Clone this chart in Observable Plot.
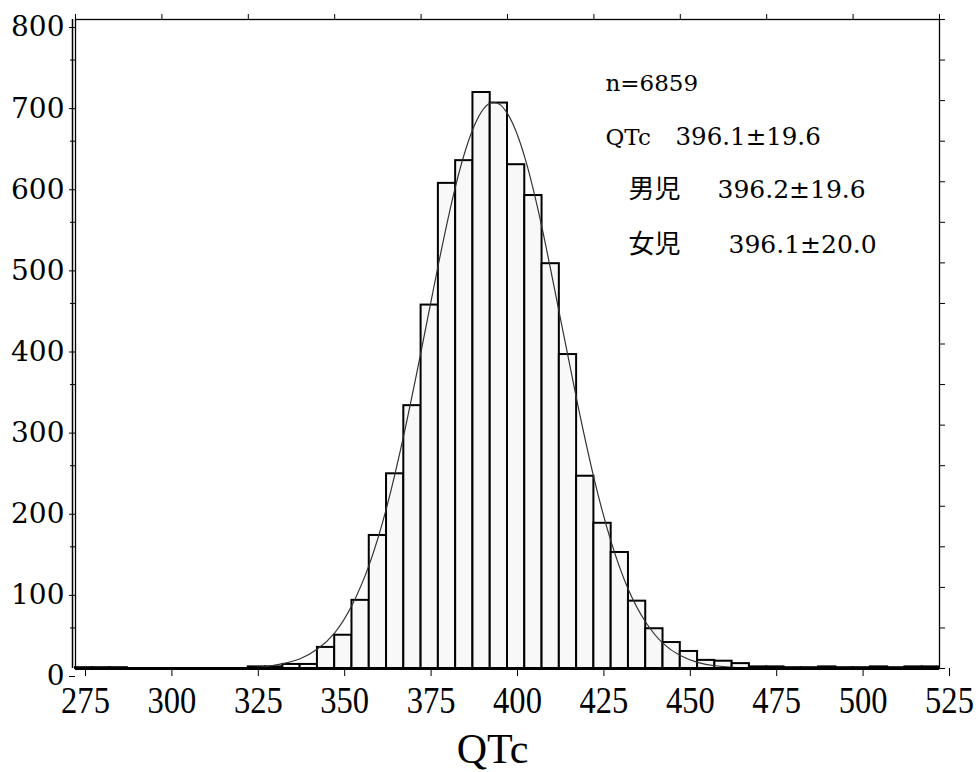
<!DOCTYPE html>
<html>
<head>
<meta charset="utf-8">
<script src="https://cdn.jsdelivr.net/npm/d3@7"></script>
<script src="https://cdn.jsdelivr.net/npm/@observablehq/plot@0.6"></script>
<style>
  html, body { margin: 0; padding: 0; background: white; }
</style>
</head>
<body>
<div id="chart"></div>
<script>
// Histogram bins (left edge, width 5) and counts
const binStarts = [275,280,285,290,295,300,305,310,315,320,325,330,335,340,345,350,355,360,365,370,375,380,385,390,395,400,405,410,415,420,425,430,435,440,445,450,455,460,465,470,475,480,485,490,495,500,505,510,515,520];
const counts    = [1,1,1,0,0,0,0,0,0,0,2,2,5,5,26,41,84,164,240,324,448,598,626,710,697,621,583,499,387,237,179,143,83,49,32,21,10,9,6,2,2,1,1,2,1,1,2,1,2,2];
const binWidth = 5;

// Fitted curve, points
const curveX = [320,325,330,335,340,345,350,355,360,365,370,375,380,385,390,395,400,405,410,415,420,425,430,435,440,445,450,455,460,465,470,475];
const curveY = [0.5,1,2.5,6,12,24,44,78,128,198,288,391,498,595,665,697,684,630,543,438,332,235,156,97,57,31,16,7.6,3.4,1.5,0.6,0.3];

const xTicks = [275,300,325,350,375,400,425,450,475,500,525];
const yTicks = [0,100,200,300,400,500,600,700,800];
const yMinorTicks = [50,150,250,350,450,550,650,750];

const nLabel = "n=6859";
const totalName = "QTc";
const totalStat = "396.1±19.6";
const groupNames = ["男児", "女児"];
const groupStats = ["396.2±19.6", "396.1±20.0"];
const axisTitle = "QTc";

const bins = binStarts.map((s, i) => ({x1: s, x2: s + binWidth, y: counts[i]})).filter(d => d.y > 0);
const curve = curveX.map((x, i) => ({x, y: curveY[i]}));

const serif = "'Liberation Serif', 'Times New Roman', serif";
const wideSerif = "'DejaVu Serif', serif";
const cjk = "'Noto Sans CJK JP', sans-serif";

const chart = Plot.plot({
  width: 976,
  height: 772,
  marginLeft: 75,
  marginRight: 37,
  marginTop: 19,
  marginBottom: 104,
  style: {fontFamily: serif, background: "white", color: "black", overflow: "visible"},
  x: {domain: [275, 525]},
  y: {domain: [0, 800]},
  marks: [
    Plot.rectY(bins, {x1: "x1", x2: "x2", y: "y", fill: "#f8f8f8", stroke: "black", strokeWidth: 2}),
    Plot.line(curve, {x: "x", y: "y", stroke: "#333", strokeWidth: 1.2, curve: "natural"}),
    Plot.frame({stroke: "black", strokeWidth: 1.3}),
    Plot.ruleX([275], {stroke: "black", strokeWidth: 1.5, dx: -3}),
    Plot.ruleY([0], {stroke: "black", strokeWidth: 3}),
    Plot.axisY({ticks: yTicks, tickSize: 6, tickPadding: 5, dy: 8, fontSize: 28, fontFamily: wideSerif, label: null}),
    Plot.axisY({ticks: yMinorTicks, tickSize: 5, tickFormat: () => "", label: null}),
    Plot.axisY({anchor: "right", ticks: d3.range(0, 801, 50), tickSize: 5, tickFormat: () => "", label: null}),
    Plot.axisX({ticks: xTicks, tickSize: 8, tickPadding: 10, dx: 10, fontSize: 37, label: null}),
    Plot.axisX({anchor: "top", ticks: xTicks, tickSize: 6, tickFormat: () => "", label: null}),
    Plot.text([axisTitle], {frameAnchor: "bottom", lineAnchor: "bottom", dx: -15, dy: 94, fontSize: 42, fontFamily: serif, fill: "black", ariaLabel: "x title"}),
    Plot.text([nLabel], {frameAnchor: "top-left", dx: 530, dy: 55, textAnchor: "start", fontSize: 23, fontFamily: wideSerif, fill: "black"}),
    Plot.text([totalName], {frameAnchor: "top-left", dx: 530, dy: 109, textAnchor: "start", fontSize: 23, fontFamily: wideSerif, fill: "black"}),
    Plot.text([totalStat], {frameAnchor: "top-left", dx: 600, dy: 108, textAnchor: "start", fontSize: 24.5, fontFamily: wideSerif, fill: "black"}),
    Plot.text([groupNames[0]], {frameAnchor: "top-left", dx: 553, dy: 160, textAnchor: "start", fontSize: 26, fontFamily: cjk, fill: "black"}),
    Plot.text([groupStats[0]], {frameAnchor: "top-left", dx: 642, dy: 161, textAnchor: "start", fontSize: 25, fontFamily: wideSerif, fill: "black"}),
    Plot.text([groupNames[1]], {frameAnchor: "top-left", dx: 553, dy: 215, textAnchor: "start", fontSize: 26, fontFamily: cjk, fill: "black"}),
    Plot.text([groupStats[1]], {frameAnchor: "top-left", dx: 653, dy: 216, textAnchor: "start", fontSize: 25, fontFamily: wideSerif, fill: "black"})
  ]
});
document.getElementById("chart").appendChild(chart);

// condense the serif x tick labels and axis title horizontally, as in the reference
function condense(sel, sx) {
  d3.select(chart).selectAll(sel).each(function () {
    const t = this.getAttribute("transform") || "";
    this.setAttribute("transform", (t + ` scale(${sx},1)`).trim());
  });
}
condense('g[aria-label="x-axis tick label"] text', 0.88);
condense('g[aria-label="x title"] text, text[aria-label="x title"]', 0.95);
</script>
</body>
</html>
